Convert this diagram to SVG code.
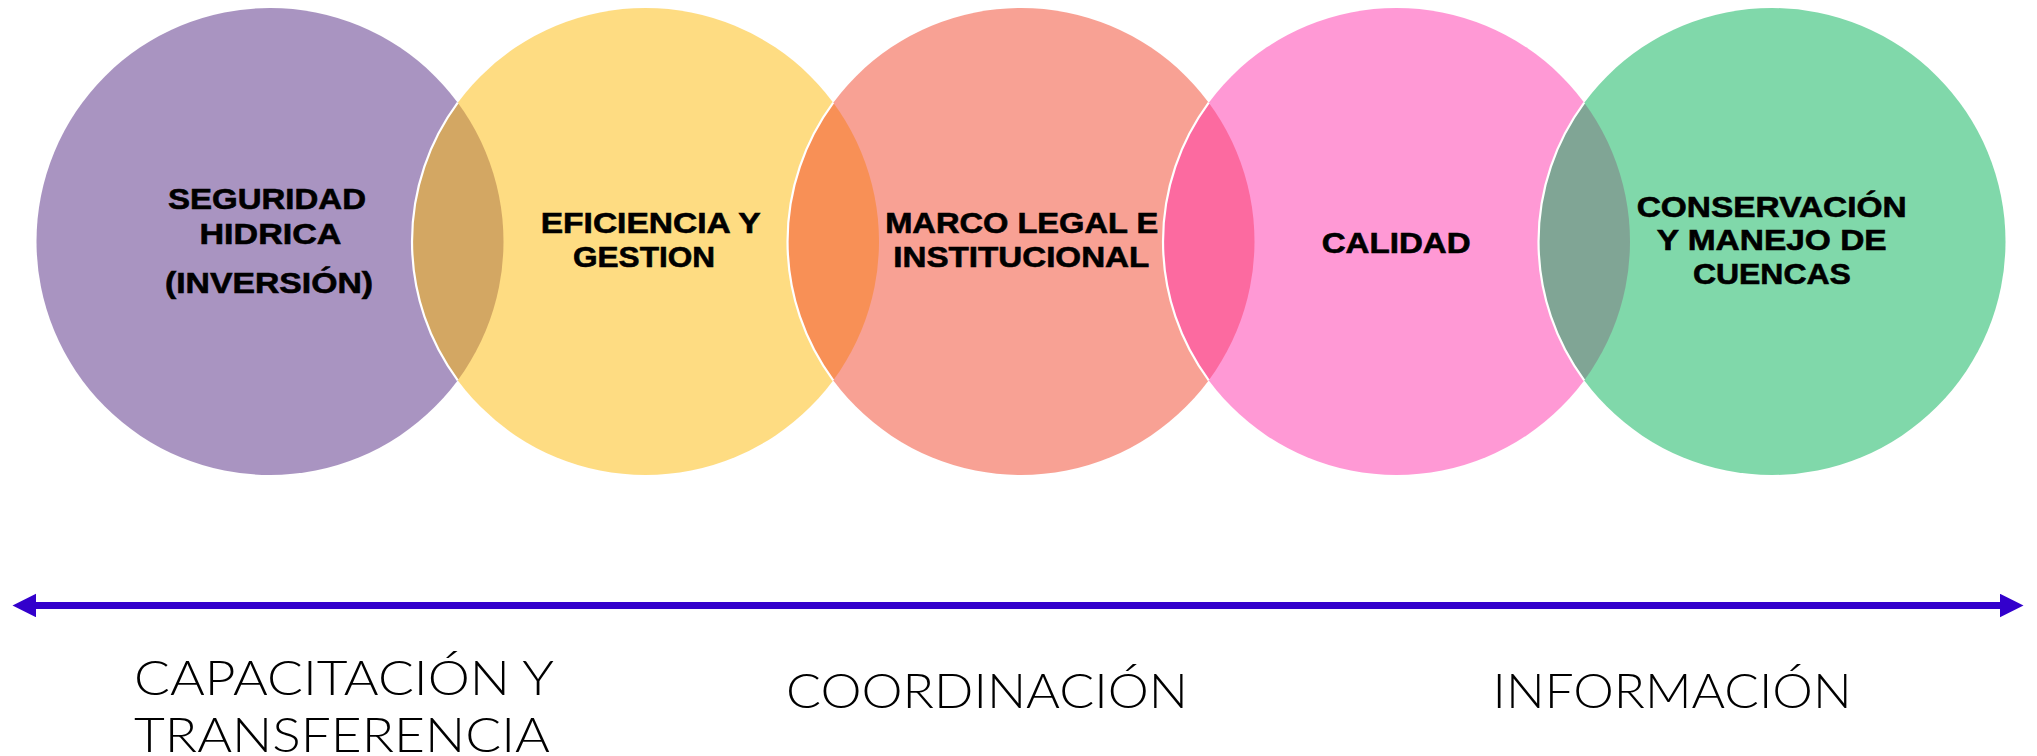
<svg xmlns="http://www.w3.org/2000/svg" width="2037" height="756" viewBox="0 0 2037 756">
  <defs>
    <style>
      .c { fill-opacity: 0.5; stroke: none; }
      .edge { fill: none; stroke: #ffffff; stroke-width: 2.2; }
      .t { font-family: "Liberation Sans", Arial, sans-serif; font-weight: 700; font-size: 29px; fill: #000000; stroke: #000000; stroke-width: 0.6; text-anchor: middle; }
      .b { font-family: "Lato", "Open Sans", "Liberation Sans", sans-serif; font-weight: 300; font-size: 47px; fill: #000000; }
    </style>
    <marker id="ah" markerUnits="userSpaceOnUse" markerWidth="24" markerHeight="24" refX="0" refY="11.75" orient="auto-start-reverse" viewBox="0 0 24 24">
      <path d="M0,0 L23.5,11.75 L0,23.5 Z" fill="#3300CC"/>
    </marker>
  </defs>
  <rect width="2037" height="756" fill="#ffffff"/>

  <g id="node-seguridad">
    <circle class="c" cx="270" cy="241.5" r="233.5" fill="#532983"/>
    <text class="t"><tspan x="267" y="209" textLength="198" lengthAdjust="spacingAndGlyphs">SEGURIDAD</tspan><tspan x="270.5" y="244" textLength="142" lengthAdjust="spacingAndGlyphs">HIDRICA</tspan><tspan x="269" y="293" textLength="208" lengthAdjust="spacingAndGlyphs">(INVERSIÓN)</tspan></text>
  </g>

  <g id="node-eficiencia">
    <circle class="c" cx="645.5" cy="241.5" r="233.5" fill="#FDB905"/>
    <path class="edge" d="M457.75,102.7 A233.5,233.5 0 0 0 457.75,380.3"/>
    <text class="t"><tspan x="650.7" y="233.3" textLength="220" lengthAdjust="spacingAndGlyphs">EFICIENCIA Y</tspan><tspan x="644" y="267.3" textLength="142" lengthAdjust="spacingAndGlyphs">GESTION</tspan></text>
  </g>

  <g id="node-marco">
    <circle class="c" cx="1021" cy="241.5" r="233.5" fill="#F14329"/>
    <path class="edge" d="M833.25,102.7 A233.5,233.5 0 0 0 833.25,380.3"/>
    <text class="t"><tspan x="1021.7" y="233.3" textLength="273" lengthAdjust="spacingAndGlyphs">MARCO LEGAL E</tspan><tspan x="1021.3" y="267.3" textLength="256" lengthAdjust="spacingAndGlyphs">INSTITUCIONAL</tspan></text>
  </g>

  <g id="node-calidad">
    <circle class="c" cx="1396.5" cy="241.5" r="233.5" fill="#FF33AB"/>
    <path class="edge" d="M1208.75,102.7 A233.5,233.5 0 0 0 1208.75,380.3"/>
    <text class="t"><tspan x="1396.2" y="253.3" textLength="149" lengthAdjust="spacingAndGlyphs">CALIDAD</tspan></text>
  </g>

  <g id="node-conservacion">
    <circle class="c" cx="1772" cy="241.5" r="233.5" fill="#01B155"/>
    <path class="edge" d="M1584.25,102.7 A233.5,233.5 0 0 0 1584.25,380.3"/>
    <text class="t"><tspan x="1771.7" y="216.7" textLength="270" lengthAdjust="spacingAndGlyphs">CONSERVACIÓN</tspan><tspan x="1771.7" y="250" textLength="230" lengthAdjust="spacingAndGlyphs">Y MANEJO DE</tspan><tspan x="1771.9" y="284.3" textLength="158" lengthAdjust="spacingAndGlyphs">CUENCAS</tspan></text>
  </g>

  <g id="connectors">
    <line x1="36" y1="605.5" x2="2000" y2="605.5" stroke="#3300CC" stroke-width="7" marker-start="url(#ah)" marker-end="url(#ah)"/>
  </g>

  <g id="label-capacitacion">
    <text class="b"><tspan x="134" y="695" textLength="420" lengthAdjust="spacingAndGlyphs">CAPACITACIÓN Y</tspan><tspan x="134" y="751.7" textLength="416" lengthAdjust="spacingAndGlyphs">TRANSFERENCIA</tspan></text>
  </g>
  <g id="label-coordinacion">
    <text class="b" x="786" y="707.7" textLength="402" lengthAdjust="spacingAndGlyphs">COORDINACIÓN</text>
  </g>
  <g id="label-informacion">
    <text class="b" x="1492.6" y="707.7" textLength="359" lengthAdjust="spacingAndGlyphs">INFORMACIÓN</text>
  </g>
</svg>
